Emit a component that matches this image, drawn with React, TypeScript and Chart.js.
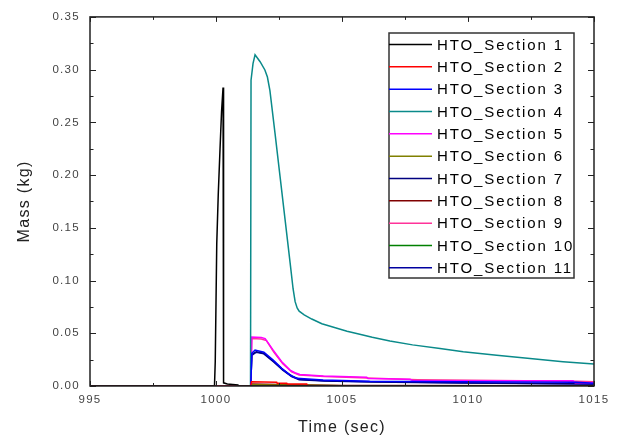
import { useEffect, useRef } from 'react';
import { Chart, registerables } from 'chart.js';

Chart.register(...registerables);

const FONT = '"Liberation Sans", Arial, sans-serif';

// Axis ranges / ticks
const xMin = 995;
const xMax = 1015;
const xMajor = 5;
const xMinor = 2.5;
const yMin = 0;
const yMax = 0.35;
const yMajor = 0.05;
const yMinor = 0.025;

const seriesLabels = [
  'HTO_Section 1', 'HTO_Section 2', 'HTO_Section 3', 'HTO_Section 4',
  'HTO_Section 5', 'HTO_Section 6', 'HTO_Section 7', 'HTO_Section 8',
  'HTO_Section 9', 'HTO_Section 10', 'HTO_Section 11',
];
const seriesColors = [
  '#000000', '#ff0000', '#0000ff', '#0a8a8a', '#ff00ff', '#808000',
  '#000080', '#800000', '#ff3399', '#008000', '#0000a0',
];

// Time (sec) / Mass (kg)
const t1 = [995, 999.94, 999.97, 1000.03, 1000.09, 1000.16, 1000.22, 1000.28, 1000.3, 1000.45, 1000.87, 1000.9, 1015];
const m1 = [0, 0, 0.023, 0.135, 0.182, 0.225, 0.26, 0.283, 0.003, 0.002, 0.001, 0, 0];

const t2 = [995, 1001.38, 1001.41, 1002.41, 1002.43, 1002.81, 1002.83, 1003.6, 1003.62, 1015];
const m2 = [0, 0, 0.004, 0.0035, 0.0025, 0.0025, 0.0019, 0.0019, 0, 0];

const t3 = [995, 1001.38, 1001.42, 1001.55, 1001.9, 1002.27, 1002.61, 1002.94, 1003.2, 1004.25, 1006.1, 1009.7, 1014.3, 1015];
const m3 = [0, 0, 0.031, 0.034, 0.032, 0.0245, 0.0167, 0.0104, 0.0073, 0.0057, 0.0044, 0.004, 0.0035, 0.0025];

const t4 = [995, 1001.37, 1001.39, 1001.47, 1001.55, 1001.75, 1001.94, 1002.04, 1002.14, 1002.34, 1002.54, 1002.74, 1002.94, 1003.06, 1003.14, 1003.22, 1003.3, 1003.5, 1003.8, 1004.2, 1004.7, 1005.2, 1005.58, 1006.2, 1006.9, 1007.8, 1008.89, 1009.81, 1011.14, 1012.46, 1013.77, 1015];
const m4 = [0, 0, 0.29, 0.306, 0.314, 0.3075, 0.2997, 0.293, 0.28, 0.24, 0.199, 0.158, 0.117, 0.092, 0.08, 0.074, 0.071, 0.0675, 0.0635, 0.059, 0.0555, 0.052, 0.0497, 0.0462, 0.0427, 0.039, 0.0356, 0.0324, 0.0292, 0.026, 0.023, 0.0208];

const t5 = [995, 1001.38, 1001.42, 1001.8, 1001.95, 1002.27, 1002.61, 1002.94, 1003.13, 1003.33, 1004.25, 1005.98, 1006.03, 1007.7, 1007.82, 1014.17, 1014.25, 1015];
const m5 = [0, 0, 0.0465, 0.046, 0.045, 0.034, 0.023, 0.0151, 0.0126, 0.011, 0.0094, 0.0082, 0.007, 0.0063, 0.005, 0.005, 0.003, 0.003];

const t6 = [995, 1001.38, 1001.42, 1002.5, 1003.5, 1005, 1015];
const m6 = [0, 0, 0.0012, 0.001, 0.0006, 0.0003, 0];

const t7 = [995, 1001.38, 1001.42, 1001.6, 1001.9, 1002.3, 1002.65, 1003.0, 1003.3, 1004.3, 1006.2, 1009.7, 1015];
const m7 = [0, 0, 0.03, 0.0325, 0.031, 0.023, 0.0155, 0.0095, 0.0065, 0.005, 0.004, 0.003, 0.002];

const t8 = [995, 1001.38, 1001.42, 1002.5, 1003.5, 1005, 1015];
const m8 = [0, 0, 0.0018, 0.0015, 0.0009, 0.0005, 0.0002];

const t9 = [995, 1001.38, 1001.42, 1001.8, 1002.0, 1002.3, 1002.65, 1003.0, 1003.3, 1004.3, 1006.0, 1008.0, 1014.3, 1015];
const m9 = [0, 0, 0.045, 0.0445, 0.043, 0.032, 0.021, 0.0135, 0.0105, 0.009, 0.0075, 0.006, 0.0045, 0.004];

const t10 = [995, 1001.38, 1001.42, 1002.5, 1003.5, 1005, 1015];
const m10 = [0, 0, 0.0008, 0.0007, 0.0004, 0.0002, 0];

const t11 = [995, 1001.38, 1001.42, 1001.6, 1001.9, 1002.3, 1002.65, 1003.0, 1003.3, 1004.3, 1006.2, 1009.7, 1015];
const m11 = [0, 0, 0.029, 0.032, 0.0305, 0.0225, 0.015, 0.009, 0.006, 0.0048, 0.0038, 0.0028, 0.0018];

const seriesTimes = [t1, t2, t3, t4, t5, t6, t7, t8, t9, t10, t11];
const seriesMass = [m1, m2, m3, m4, m5, m6, m7, m8, m9, m10, m11];

const framePlugin = {
  id: 'frameTicks',
  afterDatasetsDraw(chart: any) {
    const { ctx, chartArea: a, scales } = chart;
    const xs = scales.x;
    const ys = scales.y;
    ctx.save();
    ctx.strokeStyle = '#222';
    ctx.lineWidth = 1;
    const xSteps = Math.round((xMax - xMin) / xMinor);
    for (let i = 0; i <= xSteps; i++) {
      const v = xMin + i * xMinor;
      const px = Math.round(xs.getPixelForValue(v)) + 0.5;
      const len = i % Math.round(xMajor / xMinor) === 0 ? 5 : 3;
      ctx.beginPath();
      ctx.moveTo(px, a.bottom);
      ctx.lineTo(px, a.bottom - len);
      ctx.moveTo(px, a.top);
      ctx.lineTo(px, a.top + len);
      ctx.stroke();
    }
    const ySteps = Math.round((yMax - yMin) / yMinor);
    for (let i = 0; i <= ySteps; i++) {
      const v = yMin + i * yMinor;
      const py = Math.round(ys.getPixelForValue(v)) + 0.5;
      const len = i % Math.round(yMajor / yMinor) === 0 ? 6 : 3.5;
      ctx.beginPath();
      ctx.moveTo(a.left, py);
      ctx.lineTo(a.left + len, py);
      ctx.moveTo(a.right, py);
      ctx.lineTo(a.right - len, py);
      ctx.stroke();
    }
    ctx.lineWidth = 1.5;
    ctx.strokeStyle = '#222';
    ctx.strokeRect(a.left, a.top, a.right - a.left, a.bottom - a.top);
    ctx.restore();
  },
};

const legendPlugin = {
  id: 'boxLegend',
  afterDraw(chart: any) {
    const { ctx } = chart;
    const left = 389;
    const top = 33;
    const right = 574;
    const bottom = 278;
    const firstRow = 44.5;
    const rowGap = 22.33;
    ctx.save();
    ctx.fillStyle = '#ffffff';
    ctx.fillRect(left, top, right - left, bottom - top);
    ctx.lineWidth = 1.5;
    ctx.strokeStyle = '#333';
    ctx.strokeRect(left, top, right - left, bottom - top);
    ctx.font = `15px ${FONT}`;
    (ctx as any).letterSpacing = '1.9px';
    ctx.textAlign = 'left';
    ctx.textBaseline = 'middle';
    chart.data.datasets.forEach((ds: any, i: number) => {
      const y = firstRow + i * rowGap;
      ctx.strokeStyle = ds.borderColor;
      ctx.lineWidth = 1.5;
      ctx.beginPath();
      ctx.moveTo(left, y);
      ctx.lineTo(432, y);
      ctx.stroke();
      ctx.fillStyle = '#000';
      ctx.fillText(ds.label, 437, y + 1);
    });
    ctx.restore();
  },
};

const spacingPlugin = {
  id: 'spacing',
  beforeDraw(chart: any) {
    (chart.ctx as any).letterSpacing = '1.3px';
  },
  afterDraw(chart: any) {
    (chart.ctx as any).letterSpacing = '0px';
  },
};

export default function App() {
  const ref = useRef<HTMLCanvasElement>(null);
  useEffect(() => {
    document.body.style.margin = '0';
    const canvas = ref.current;
    if (!canvas) return;
    const datasets = seriesLabels.map((label, i) => ({
      label,
      data: seriesTimes[i].map((t, j) => ({ x: t, y: seriesMass[i][j] })),
      borderColor: seriesColors[i],
      backgroundColor: seriesColors[i],
      borderWidth: 1.5,
      pointRadius: 0,
      tension: 0,
      fill: false,
    }));
    const chart = new Chart(canvas, {
      type: 'line',
      data: { datasets },
      plugins: [spacingPlugin, framePlugin, legendPlugin],
      options: {
        animation: false,
        responsive: false,
        maintainAspectRatio: false,
        parsing: false,
        layout: { padding: { left: 0, top: 15, right: 23, bottom: 0 } },
        plugins: {
          legend: { display: false },
          tooltip: { enabled: false },
        },
        scales: {
          x: {
            type: 'linear',
            min: xMin,
            max: xMax,
            grid: { display: false, drawTicks: false },
            border: { display: false },
            ticks: {
              stepSize: xMajor,
              padding: 7,
              color: '#444',
              font: { family: FONT, size: 11.5 },
              maxRotation: 0,
              callback: (v: any) => String(v),
            },
            title: {
              display: true,
              text: 'Time (sec)',
              color: '#222',
              font: { family: FONT, size: 16 },
              padding: { top: 0, bottom: 0 },
            },
            afterFit(scale: any) {
              scale.height = 51;
            },
          },
          y: {
            type: 'linear',
            min: yMin,
            max: yMax,
            grid: { display: false, drawTicks: false },
            border: { display: false },
            ticks: {
              stepSize: yMajor,
              padding: 10,
              color: '#444',
              font: { family: FONT, size: 11.5 },
              callback: (v: any) => Number(v).toFixed(2),
            },
            title: {
              display: true,
              text: 'Mass (kg)',
              color: '#222',
              font: { family: FONT, size: 16 },
              padding: { top: 15, bottom: 0 },
            },
            afterFit(scale: any) {
              scale.width = 90;
            },
          },
        },
      },
    } as any);
    return () => chart.destroy();
  }, []);
  return (
    <div style={{ width: 617, height: 437, position: 'relative' }}>
      <canvas ref={ref} width={617} height={437} style={{ display: 'block' }} />
    </div>
  );
}
